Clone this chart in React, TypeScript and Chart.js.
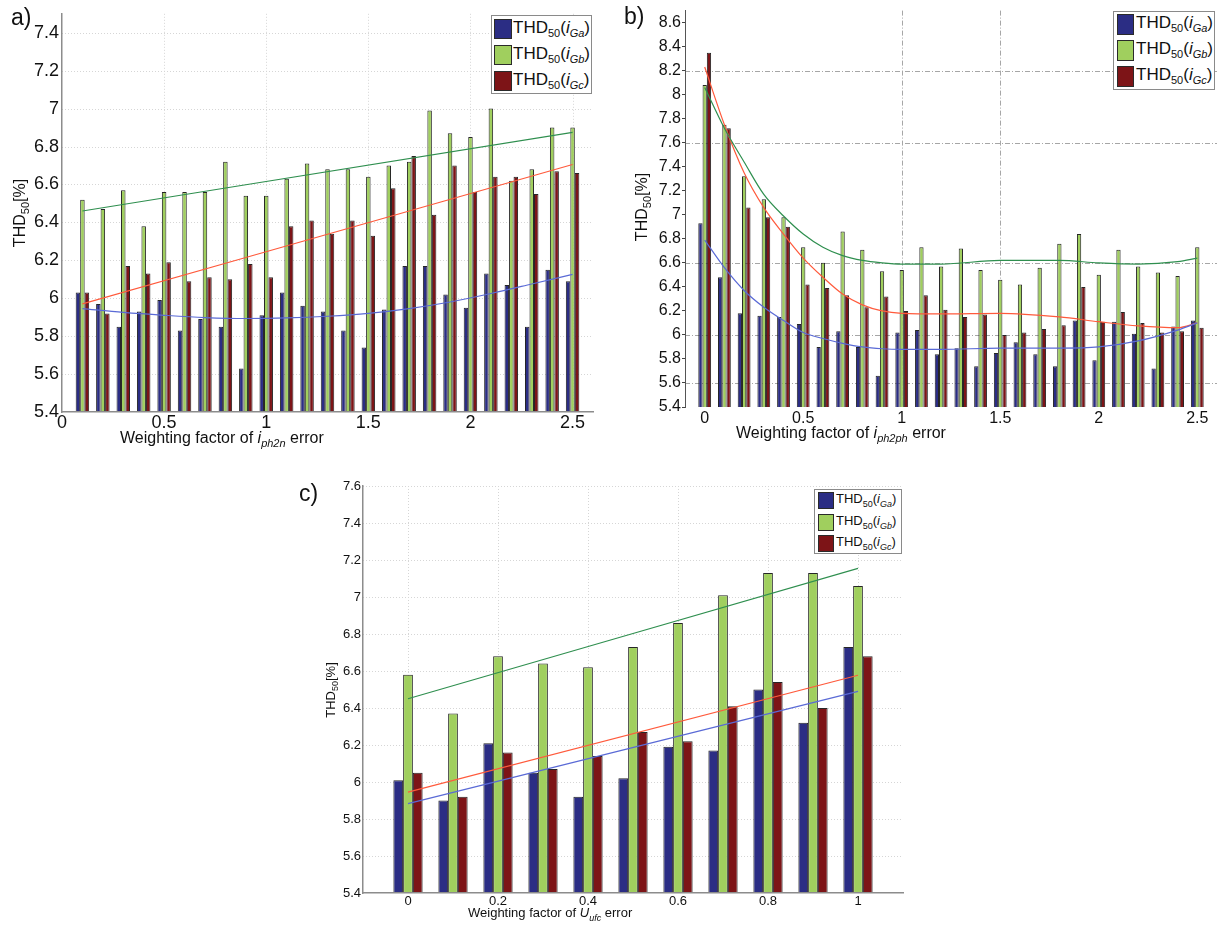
import React, { useEffect, useRef } from "react";
import { Chart, registerables } from "chart.js";

Chart.register(...registerables);

// ---------------- Panel a) : weighting factor of i_ph2n error ----------------
const aCategories = [0.1, 0.2, 0.3, 0.4, 0.5, 0.6, 0.7, 0.8, 0.9, 1.0, 1.1, 1.2, 1.3, 1.4, 1.5, 1.6, 1.7, 1.8, 1.9, 2.0, 2.1, 2.2, 2.3, 2.4, 2.5];
const aGa = [6.03, 5.97, 5.85, 5.93, 5.99, 5.83, 5.89, 5.85, 5.63, 5.91, 6.03, 5.96, 5.93, 5.83, 5.74, 5.94, 6.17, 6.17, 6.02, 5.95, 6.13, 6.07, 5.85, 6.15, 6.09];
const aGb = [6.52, 6.47, 6.57, 6.38, 6.56, 6.56, 6.56, 6.72, 6.54, 6.54, 6.63, 6.71, 6.68, 6.68, 6.64, 6.70, 6.72, 6.99, 6.87, 6.85, 7.00, 6.62, 6.68, 6.90, 6.90];
const aGc = [6.03, 5.92, 6.17, 6.13, 6.19, 6.09, 6.11, 6.10, 6.18, 6.11, 6.38, 6.41, 6.34, 6.41, 6.33, 6.58, 6.75, 6.44, 6.70, 6.56, 6.64, 6.64, 6.55, 6.67, 6.66];
const aFitLinX = [0.1, 2.5];
const aFitGb = [6.46, 6.875];
const aFitGc = [5.97, 6.705];
const aFitGaX = [0.1, 0.3, 0.5, 0.7, 0.9, 1.1, 1.3, 1.5, 1.7, 1.9, 2.1, 2.3, 2.5];
const aFitGa = [5.945, 5.925, 5.91, 5.898, 5.893, 5.896, 5.905, 5.92, 5.945, 5.98, 6.025, 6.075, 6.126];
const aXTicks = [0, 0.5, 1, 1.5, 2, 2.5];
const aYTicks = [5.4, 5.6, 5.8, 6, 6.2, 6.4, 6.6, 6.8, 7, 7.2, 7.4];
const aGridX = [0.5, 1, 1.5, 2, 2.5];
const aGridY = [5.6, 5.8, 6, 6.2, 6.4, 6.6, 6.8, 7, 7.2, 7.4];

// ---------------- Panel b) : weighting factor of i_ph2ph error ----------------
const bCategories = [0, 0.1, 0.2, 0.3, 0.4, 0.5, 0.6, 0.7, 0.8, 0.9, 1.0, 1.1, 1.2, 1.3, 1.4, 1.5, 1.6, 1.7, 1.8, 1.9, 2.0, 2.1, 2.2, 2.3, 2.4, 2.5];
const bGa = [6.93, 6.48, 6.18, 6.16, 6.15, 6.09, 5.90, 6.03, 5.90, 5.66, 6.02, 6.04, 5.84, 5.89, 5.74, 5.85, 5.94, 5.84, 5.74, 6.12, 5.79, 6.11, 6.01, 5.72, 6.07, 6.12];
const bGb = [8.08, 7.75, 7.32, 7.13, 6.98, 6.73, 6.60, 6.86, 6.71, 6.53, 6.54, 6.73, 6.57, 6.72, 6.54, 6.46, 6.42, 6.56, 6.76, 6.84, 6.50, 6.71, 6.57, 6.52, 6.49, 6.73];
const bGc = [8.35, 7.72, 7.06, 6.98, 6.90, 6.42, 6.39, 6.33, 6.23, 6.32, 6.20, 6.33, 6.21, 6.15, 6.17, 6.00, 6.02, 6.05, 6.08, 6.40, 6.11, 6.19, 6.10, 6.02, 6.03, 6.06];
const bFitX = [0, 0.1, 0.2, 0.3, 0.4, 0.5, 0.6, 0.7, 0.8, 0.9, 1.0, 1.2, 1.5, 1.8, 2.0, 2.2, 2.4, 2.5];
const bFitGb = [8.06, 7.72, 7.44, 7.17, 6.99, 6.84, 6.73, 6.66, 6.62, 6.60, 6.59, 6.59, 6.62, 6.62, 6.60, 6.59, 6.61, 6.64];
const bFitGc = [8.23, 7.75, 7.35, 7.06, 6.84, 6.64, 6.48, 6.34, 6.25, 6.20, 6.18, 6.175, 6.18, 6.15, 6.11, 6.075, 6.06, 6.10];
const bFitGa = [6.79, 6.56, 6.37, 6.23, 6.12, 6.02, 5.97, 5.93, 5.90, 5.885, 5.88, 5.88, 5.89, 5.89, 5.90, 5.95, 6.04, 6.10];
const bXTicks = [0, 0.5, 1, 1.5, 2, 2.5];
const bYTicks = [5.4, 5.6, 5.8, 6, 6.2, 6.4, 6.6, 6.8, 7, 7.2, 7.4, 7.6, 7.8, 8, 8.2, 8.4, 8.6];
const bGridX = [1, 1.5];
const bGridY = [5.6, 6, 6.6, 7.6, 8.2];

// ---------------- Panel c) : weighting factor of U_ufc error ----------------
const cCategories = [0, 0.1, 0.2, 0.3, 0.4, 0.5, 0.6, 0.7, 0.8, 0.9, 1.0];
const cGa = [6.01, 5.90, 6.21, 6.05, 5.92, 6.02, 6.19, 6.17, 6.50, 6.32, 6.73];
const cGb = [6.58, 6.37, 6.68, 6.64, 6.62, 6.73, 6.86, 7.01, 7.13, 7.13, 7.06];
const cGc = [6.05, 5.92, 6.16, 6.07, 6.14, 6.27, 6.22, 6.41, 6.54, 6.40, 6.68];
const cFitX = [0, 1];
const cFitGb = [6.45, 7.155];
const cFitGc = [5.945, 6.577];
const cFitGa = [5.883, 6.49];
const cXTicks = [0, 0.2, 0.4, 0.6, 0.8, 1];
const cYTicks = [5.4, 5.6, 5.8, 6, 6.2, 6.4, 6.6, 6.8, 7, 7.2, 7.4, 7.6];
const cGridX = [0, 0.2, 0.4, 0.6, 0.8, 1];
const cGridY = [5.6, 5.8, 6, 6.2, 6.4, 6.6, 6.8, 7, 7.2, 7.4, 7.6];

// ---------------- styling ----------------
const FONT = '"Liberation Sans", Arial, Helvetica, sans-serif';
const BLUE = "#2b2d84";
const GREEN = "#a0cf5e";
const RED = "#7d1417";
const LINE_BLUE = "#5a6ad6";
const LINE_GREEN = "#2f8f4f";
const LINE_RED = "#ff5a3c";

type Fit = { x: number[]; y: number[]; color: string };
type Spec = {
  left: number; top: number; w: number; h: number;
  padding: { top: number; right: number; left: number; bottom: number };
  yWidth: number; xHeight: number;
  xMin: number; xMax: number; yMin: number; yMax: number;
  xTicks: number[]; yTicks: number[];
  tickFont: number; xTickPad: number; yTickPad: number;
  cats: number[]; ga: number[]; gb: number[]; gc: number[];
  catPct: number;
  fits: Fit[];
  gridX: number[]; gridY: number[]; gridColor: string; gridDash: number[];
  axisColor: string; axisWidth: number; showBottom: boolean; yTickMarks: boolean;
};

const pts = (xs: number[], ys: number[]) => xs.map((x, i) => ({ x, y: ys[i] }));

function gridPlugin(s: Spec) {
  return {
    id: "customGrid",
    beforeDatasetsDraw(chart: any) {
      const { ctx, chartArea: a, scales } = chart;
      ctx.save();
      ctx.beginPath();
      ctx.rect(a.left, a.top - 1, a.right - a.left, a.bottom - a.top + 1);
      ctx.clip();
      ctx.strokeStyle = s.gridColor;
      ctx.lineWidth = 1;
      ctx.setLineDash(s.gridDash);
      for (const v of s.gridX) {
        const p = Math.round(scales.x.getPixelForValue(v)) + 0.5;
        ctx.beginPath();
        ctx.moveTo(p, a.top);
        ctx.lineTo(p, a.bottom);
        ctx.stroke();
      }
      for (const v of s.gridY) {
        const p = Math.round(scales.y.getPixelForValue(v)) + 0.5;
        ctx.beginPath();
        ctx.moveTo(a.left, p);
        ctx.lineTo(a.right, p);
        ctx.stroke();
      }
      ctx.restore();
    },
  };
}

function buildConfig(s: Spec): any {
  const fitSets = s.fits.map((f) => ({
    type: "line",
    data: pts(f.x, f.y),
    borderColor: f.color,
    borderWidth: 1.2,
    pointRadius: 0,
    tension: 0.4,
    cubicInterpolationMode: "monotone",
    fill: false,
    order: 0,
  }));
  const barSet = (vals: number[], color: string) => ({
    type: "bar",
    data: pts(s.cats, vals),
    backgroundColor: color,
    borderColor: "#262626",
    borderWidth: 1,
    order: 1,
    categoryPercentage: s.catPct,
    barPercentage: 1,
  });
  return {
    type: "bar",
    data: { datasets: [...fitSets, barSet(s.ga, BLUE), barSet(s.gb, GREEN), barSet(s.gc, RED)] },
    options: {
      animation: false,
      responsive: false,
      devicePixelRatio: 1,
      events: [],
      layout: { autoPadding: false, padding: s.padding },
      plugins: { legend: { display: false }, tooltip: { enabled: false }, title: { display: false } },
      scales: {
        x: {
          type: "linear",
          min: s.xMin,
          max: s.xMax,
          offset: false,
          afterBuildTicks: (sc: any) => {
            sc.ticks = s.xTicks.map((v) => ({ value: v }));
          },
          afterFit: (sc: any) => {
            sc.height = s.xHeight;
          },
          ticks: {
            autoSkip: false,
            maxRotation: 0,
            minRotation: 0,
            padding: s.xTickPad,
            font: { family: FONT, size: s.tickFont },
            color: "#111",
            callback: (v: any) => String(v),
          },
          grid: { display: false, offset: false, drawOnChartArea: false, drawTicks: false, tickLength: 0 },
          border: { display: s.showBottom, color: s.axisColor, width: s.axisWidth, z: 1 },
        },
        y: {
          type: "linear",
          min: s.yMin,
          max: s.yMax,
          afterBuildTicks: (sc: any) => {
            sc.ticks = s.yTicks.map((v) => ({ value: v }));
          },
          afterFit: (sc: any) => {
            sc.width = s.yWidth;
          },
          ticks: {
            autoSkip: false,
            padding: s.yTickPad,
            font: { family: FONT, size: s.tickFont },
            color: "#111",
            callback: (v: any) => String(v),
          },
          grid: s.yTickMarks
            ? { display: true, drawOnChartArea: false, drawTicks: true, tickLength: 3, tickColor: "#444", color: "rgba(0,0,0,0)" }
            : { display: false, drawOnChartArea: false, drawTicks: false, tickLength: 0 },
          border: { display: true, color: s.axisColor, width: s.axisWidth, z: 1 },
        },
      },
    },
    plugins: [gridPlugin(s)],
  };
}

const specA: Spec = {
  left: 0, top: 0, w: 610, h: 460,
  padding: { top: 13, right: 17, left: 0, bottom: 0 },
  yWidth: 62, xHeight: 48,
  xMin: 0, xMax: 2.6, yMin: 5.4, yMax: 7.5,
  xTicks: aXTicks, yTicks: aYTicks,
  tickFont: 18, xTickPad: 0, yTickPad: 3,
  cats: aCategories, ga: aGa, gb: aGb, gc: aGc, catPct: 0.66,
  fits: [
    { x: aFitGaX, y: aFitGa, color: LINE_BLUE },
    { x: aFitLinX, y: aFitGb, color: LINE_GREEN },
    { x: aFitLinX, y: aFitGc, color: LINE_RED },
  ],
  gridX: aGridX, gridY: aGridY, gridColor: "#d6d6d6", gridDash: [1, 2],
  axisColor: "#8c8c8c", axisWidth: 1.5, showBottom: true, yTickMarks: false,
};

const specB: Spec = {
  left: 620, top: 0, w: 599, h: 460,
  padding: { top: 8, right: 2, left: 0, bottom: 0 },
  yWidth: 65, xHeight: 53,
  xMin: -0.1, xMax: 2.6, yMin: 5.4, yMax: 8.7,
  xTicks: bXTicks, yTicks: bYTicks,
  tickFont: 16, xTickPad: 2, yTickPad: 1,
  cats: bCategories, ga: bGa, gb: bGb, gc: bGc, catPct: 0.65,
  fits: [
    { x: bFitX, y: bFitGa, color: LINE_BLUE },
    { x: bFitX, y: bFitGb, color: LINE_GREEN },
    { x: bFitX, y: bFitGc, color: LINE_RED },
  ],
  gridX: bGridX, gridY: bGridY, gridColor: "#a6a6a6", gridDash: [5, 2, 1, 2],
  axisColor: "#555", axisWidth: 1, showBottom: false, yTickMarks: true,
};

const specC: Spec = {
  left: 300, top: 470, w: 620, h: 458,
  padding: { top: 16, right: 17, left: 0, bottom: 0 },
  yWidth: 63, xHeight: 35,
  xMin: -0.1, xMax: 1.1, yMin: 5.4, yMax: 7.6,
  xTicks: cXTicks, yTicks: cYTicks,
  tickFont: 13, xTickPad: 1, yTickPad: 2,
  cats: cCategories, ga: cGa, gb: cGb, gc: cGc, catPct: 0.65,
  fits: [
    { x: cFitX, y: cFitGa, color: LINE_BLUE },
    { x: cFitX, y: cFitGb, color: LINE_GREEN },
    { x: cFitX, y: cFitGc, color: LINE_RED },
  ],
  gridX: cGridX, gridY: cGridY, gridColor: "#d6d6d6", gridDash: [1, 2],
  axisColor: "#8c8c8c", axisWidth: 1.5, showBottom: true, yTickMarks: false,
};

function ChartPanel({ spec }: { spec: Spec }) {
  const ref = useRef<HTMLCanvasElement>(null);
  useEffect(() => {
    const chart = new Chart(ref.current as HTMLCanvasElement, buildConfig(spec));
    return () => chart.destroy();
  }, [spec]);
  return (
    <canvas
      ref={ref}
      width={spec.w}
      height={spec.h}
      style={{ position: "absolute", left: spec.left, top: spec.top, width: spec.w, height: spec.h }}
    />
  );
}

const legendItems = [
  { color: BLUE, sub: "Ga" },
  { color: GREEN, sub: "Gb" },
  { color: RED, sub: "Gc" },
];

function Legend(props: {
  left: number; top: number; w: number; h: number;
  sx: number; sy: number; sw: number; sh: number; pitch: number;
  tx: number; tdy: number; fs: number; sub: number;
}) {
  const p = props;
  return (
    <div
      style={{
        position: "absolute", left: p.left, top: p.top, width: p.w, height: p.h,
        border: "1px solid #8a8a8a", background: "#fff", boxSizing: "border-box",
      }}
    >
      {legendItems.map((it, i) => (
        <React.Fragment key={it.sub}>
          <div
            style={{
              position: "absolute", left: p.sx, top: p.sy + i * p.pitch, width: p.sw, height: p.sh,
              background: it.color, border: "1px solid #2a2a2a", boxSizing: "border-box",
            }}
          />
          <span
            style={{
              position: "absolute", left: p.tx, top: p.sy + i * p.pitch + p.tdy,
              fontFamily: FONT, fontSize: p.fs, lineHeight: 1, whiteSpace: "nowrap", color: "#111",
            }}
          >
            THD<sub style={{ fontSize: p.sub, lineHeight: 0 }}>50</sub>(<i>i</i>
            <sub style={{ fontSize: p.sub, lineHeight: 0 }}><i>{it.sub}</i></sub>)
          </span>
        </React.Fragment>
      ))}
    </div>
  );
}

function YTitle({ cx, cy, fs, sub }: { cx: number; cy: number; fs: number; sub: number }) {
  return (
    <div
      style={{
        position: "absolute", left: cx, top: cy, transform: "translate(-50%, -50%) rotate(-90deg)",
        fontFamily: FONT, fontSize: fs, lineHeight: 1, whiteSpace: "nowrap", color: "#111",
      }}
    >
      THD<sub style={{ fontSize: sub, lineHeight: 0 }}>50</sub>[%]
    </div>
  );
}

function XTitle({ left, top, fs, sub, v, s }: { left: number; top: number; fs: number; sub: number; v: string; s: string }) {
  return (
    <div
      style={{
        position: "absolute", left, top, fontFamily: FONT, fontSize: fs, lineHeight: 1,
        whiteSpace: "nowrap", color: "#111",
      }}
    >
      Weighting factor of <i>{v}</i>
      <sub style={{ fontSize: sub, lineHeight: 0 }}><i>{s}</i></sub> error
    </div>
  );
}

function PanelLabel({ left, top, text }: { left: number; top: number; text: string }) {
  return (
    <div style={{ position: "absolute", left, top, fontFamily: FONT, fontSize: 23, lineHeight: 1, color: "#111" }}>
      {text}
    </div>
  );
}

export default function App() {
  return (
    <div
      style={{
        position: "absolute", left: 0, top: 0, width: 1219, height: 928,
        background: "#fff", overflow: "hidden",
      }}
    >
      <ChartPanel spec={specA} />
      <ChartPanel spec={specB} />
      <ChartPanel spec={specC} />

      <PanelLabel left={11} top={6} text="a)" />
      <PanelLabel left={624} top={5} text="b)" />
      <PanelLabel left={299} top={482} text="c)" />

      <YTitle cx={20} cy={213} fs={16} sub={11} />
      <YTitle cx={642} cy={207} fs={16} sub={11} />
      <YTitle cx={330} cy={690} fs={13} sub={9} />

      <XTitle left={120} top={430} fs={16} sub={11} v="i" s="ph2n" />
      <XTitle left={736} top={425} fs={16} sub={11} v="i" s="ph2ph" />
      <XTitle left={468} top={906} fs={13} sub={9} v="U" s="ufc" />

      <Legend left={491} top={15} w={101} h={79} sx={2} sy={3} sw={18} sh={20} pitch={26} tx={21} tdy={0} fs={17} sub={11} />
      <Legend left={1113} top={11} w={102} h={79} sx={3} sy={2} sw={17} sh={21} pitch={26} tx={22} tdy={0} fs={17} sub={11} />
      <Legend left={814} top={489} w={88} h={65} sx={3} sy={2} sw={16} sh={17} pitch={21.5} tx={21} tdy={0} fs={13} sub={9} />
    </div>
  );
}
